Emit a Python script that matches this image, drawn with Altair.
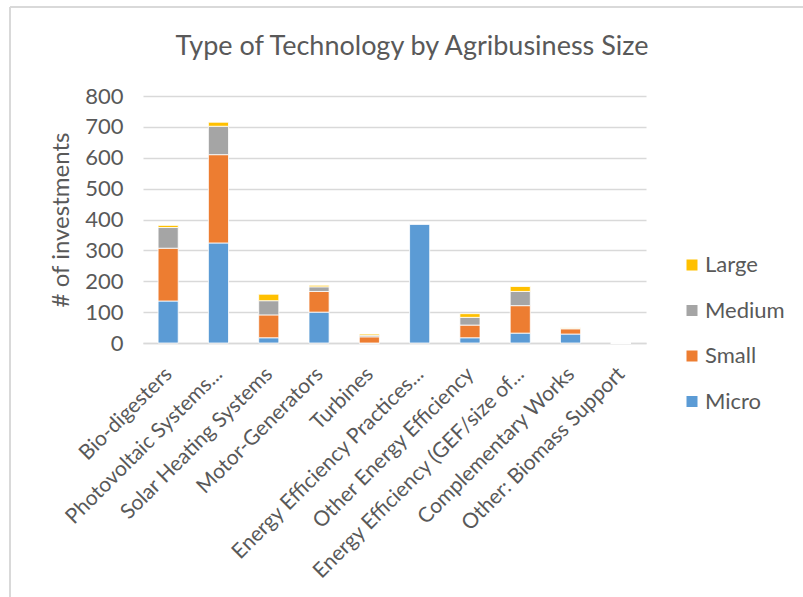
import altair as alt
import pandas as pd

categories = [
    "Bio-digesters",
    "Photovoltaic Systems...",
    "Solar Heating Systems",
    "Motor-Generators",
    "Turbines",
    "Energy Efficiency Practices...",
    "Other Energy Efficiency",
    "Energy Efficiency (GEF/size of...",
    "Complementary Works",
    "Other: Biomass Support",
]
micro = [136, 324, 17, 100, 0, 386, 17, 32, 29, 0]
small = [171, 286, 74, 67, 20, 0, 41, 89, 17, 0]
medium = [67, 92, 46, 15, 5, 0, 25, 46, 2, 0]
large = [7, 13, 21, 5, 4, 0, 12, 16, 1, 0]

sizes = ["Micro", "Small", "Medium", "Large"]
series = [micro, small, medium, large]
colors = {"Large": "#FFC000", "Medium": "#A5A5A5", "Small": "#ED7D31", "Micro": "#5B9BD5"}
legend_order = ["Large", "Medium", "Small", "Micro"]
title_text = "Type of Technology by Agribusiness Size"

rows = []
for rank, (s, vals) in enumerate(zip(sizes, series)):
    for c, v in zip(categories, vals):
        rows.append({"Technology": c, "Size": s, "Count": v, "rank": rank})
df = pd.DataFrame(rows)

FONT = "Lato"
GREY = "#595959"

bars = alt.Chart(df).mark_bar(stroke="white", strokeWidth=0.8).encode(
    x=alt.X("Technology:N", sort=categories,
            scale=alt.Scale(paddingInner=0.6, paddingOuter=0.3),
            axis=alt.Axis(title=None, labelAngle=-45, labelFontSize=21, labelColor=GREY,
                          labelFont=FONT, ticks=False, domainColor="#D9D9D9", domainWidth=1.5,
                          labelPadding=20, labelLimit=400, labelOffset=-7)),
    y=alt.Y("Count:Q", stack="zero",
            scale=alt.Scale(domain=[0, 800]),
            axis=alt.Axis(title="# of investments", values=list(range(0, 801, 100)),
                          titleFontSize=24, titleFont=FONT, titleColor=GREY, titleFontWeight="normal",
                          labelFontSize=22, labelFont=FONT, labelColor=GREY, labelPadding=20,
                          ticks=False, domain=False, gridColor="#D9D9D9", gridWidth=1.3,
                          titlePadding=11)),
    color=alt.Color("Size:N", scale=alt.Scale(domain=legend_order,
                                              range=[colors[k] for k in legend_order]),
                    legend=alt.Legend(title=None, orient="none", legendX=538, legendY=158,
                                      symbolType="square", symbolSize=121, symbolStrokeWidth=0,
                                      labelFontSize=22, labelFont=FONT, labelColor=GREY,
                                      rowPadding=23.5, labelOffset=2)),
    order=alt.Order("rank:Q", sort="ascending"),
)

one = pd.DataFrame({"a": [0]})
frame_top = alt.Chart(one).mark_rule(color="#D9D9D9", strokeWidth=2).encode(
    x=alt.value(-133), x2=alt.value(670), y=alt.value(-89))
frame_left = alt.Chart(one).mark_rule(color="#D9D9D9", strokeWidth=2).encode(
    x=alt.value(-133), y=alt.value(-89), y2=alt.value(520))
title = alt.Chart(one).mark_text(fontSize=27, font=FONT, color=GREY, align="center",
                                 baseline="middle").encode(
    x=alt.value(269), y=alt.value(-49), text=alt.value(title_text))

chart = alt.layer(frame_top, frame_left, title, bars).properties(
    width=503, height=247,
    autosize=alt.AutoSizeParams(type="none"),
    padding={"left": 143, "top": 96, "right": 157, "bottom": 254},
    background="white",
).configure_view(stroke=None)

chart.save("out.html", embed_options={"renderer": "svg", "actions": False})
